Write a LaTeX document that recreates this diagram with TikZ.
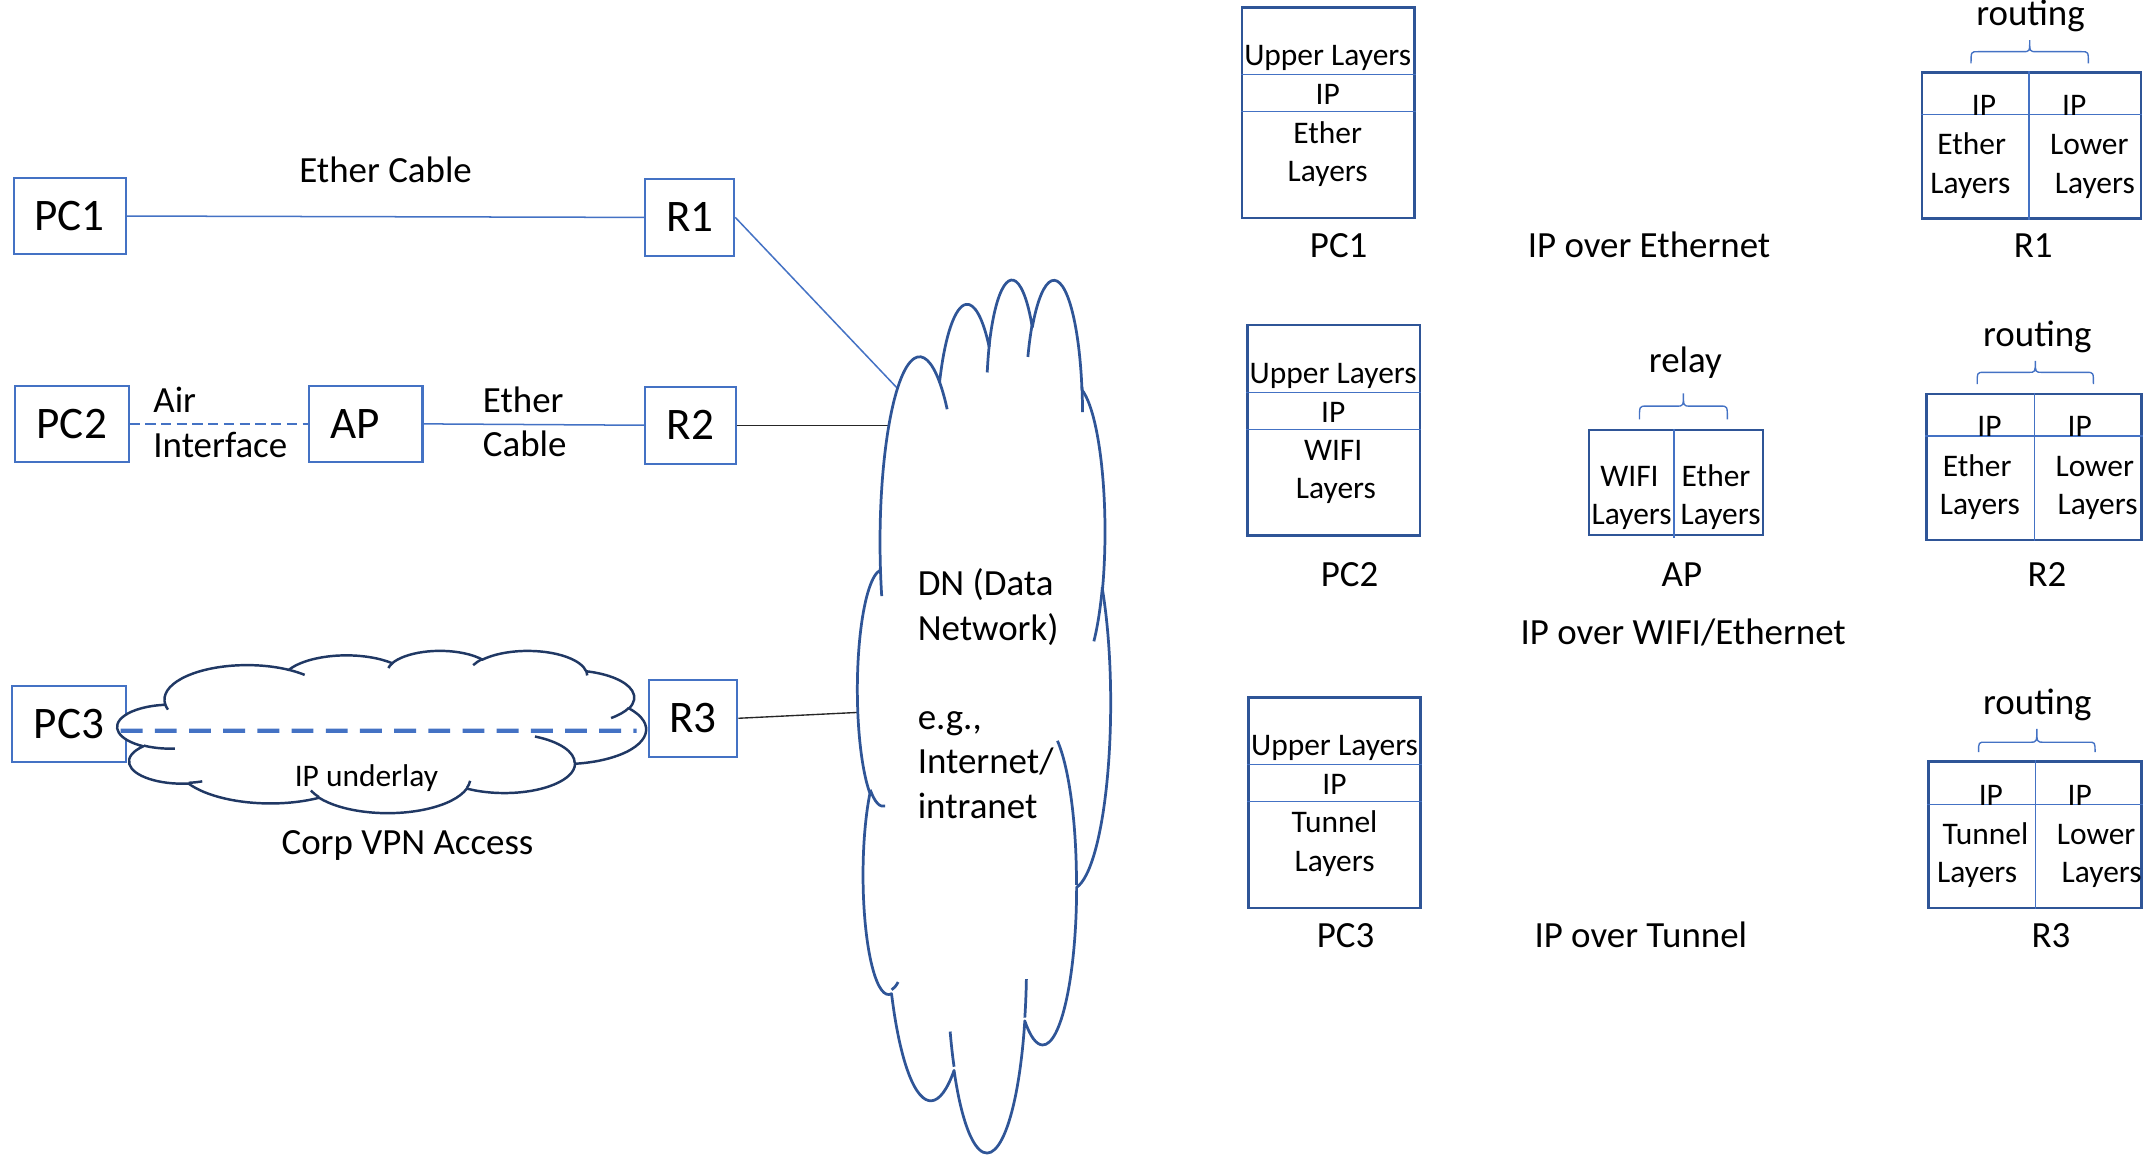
\documentclass[tikz,border=0pt]{standalone}
\usepackage{fontspec}
\setmainfont{Carlito}
\usetikzlibrary{calc}
\definecolor{cB}{HTML}{4472C4}
\definecolor{cD}{HTML}{2F5597}
\definecolor{cN}{HTML}{203864}
\newcommand\fbig{\fontsize{33}{40}\selectfont}
\newcommand\fmed{\fontsize{27}{33}\selectfont}
\newcommand\fsml{\fontsize{23}{28}\selectfont}
\newcommand\cloudpath{(39.00,143.70)
 arc[start angle=172.25, delta angle=128.11, x radius=67.53, y radius=91.90]
 arc[start angle=-152.02, delta angle=106.59, x radius=53.33, y radius=72.67]
 arc[start angle=-153.48, delta angle=116.17, x radius=43.65, y radius=59.45]
 arc[start angle=-139.69, delta angle=129.48, x radius=48.57, y radius=65.95]
 arc[start angle=-74.77, delta angle=97.98, x radius=53.33, y radius=72.73]
 arc[start angle=-37.53, delta angle=119.39, x radius=67.75, y radius=92.20]
 arc[start angle=0.46, delta angle=121.52, x radius=57.85, y radius=78.67]
 arc[start angle=16.85, delta angle=129.38, x radius=67.52, y radius=92.15]
 arc[start angle=58.98, delta angle=91.21, x radius=77.20, y radius=105.43]
 arc[start angle=83.31, delta angle=139.80, x radius=43.60, y radius=59.18]
 arc[start angle=120.36, delta angle=143.75, x radius=43.45, y radius=59.45]
 -- cycle}
\newcommand\cloudinner{
 (46.93,261.77) arc[start angle=85.55, delta angle=34.81, x radius=43.45, y radius=59.45]
 (69.28,348.99) arc[start angle=68.23, delta angle=15.08, x radius=43.60, y radius=59.18]
 (164.78,390.90) arc[start angle=146.23, delta angle=12.25, x radius=67.52, y radius=92.15]
 (288.27,347.51) arc[start angle=4.74, delta angle=12.11, x radius=67.52, y radius=92.15]
 (341.29,229.54) arc[start angle=-64.03, delta angle=64.49, x radius=57.85, y radius=78.67]
 (417.98,153.54) arc[start angle=23.21, delta angle=26.43, x radius=53.33, y radius=72.73]
 (383.24,54.26) arc[start angle=-10.21, delta angle=11.03, x radius=48.57, y radius=65.95]
 (290.78,39.52) arc[start angle=-156.29, delta angle=16.60, x radius=48.57, y radius=65.95]
 (221.41,47.20) arc[start angle=-167.73, delta angle=14.25, x radius=43.65, y radius=59.45]
 (140.00,51.92) arc[start angle=-59.64, delta angle=13.90, x radius=67.53, y radius=91.90]
 (41.27,157.89) arc[start angle=163.20, delta angle=9.05, x radius=67.53, y radius=91.90]}
\newcommand\bracepath[5]{%
 \draw[brc] (#1,#3) .. controls (#1,#4) .. (#1+5,#4) -- (#1/2+#2/2-5,#4)
   .. controls (#1/2+#2/2,#4) .. (#1/2+#2/2,#5)
   .. controls (#1/2+#2/2,#4) .. (#1/2+#2/2+5,#4) -- (#2-5,#4)
   .. controls (#2,#4) .. (#2,#3);}
\begin{document}
\begin{tikzpicture}[x=1pt,y=-1pt,
  lbox/.style={draw=cB, line width=1.5pt, fill=white, inner sep=0pt,
    minimum height=56pt, font=\fbig, text height=21.1pt, text depth=0pt},
  tbig/.style={font=\fbig, inner sep=0pt, text height=21.1pt, text depth=0pt},
  tmed/.style={font=\fmed, inner sep=0pt, text height=17.3pt, text depth=0pt},
  tsml/.style={font=\fsml, inner sep=0pt, text height=14.7pt, text depth=0pt},
  conn/.style={draw=cB, line width=1.1pt},
  blk/.style={draw=black!85, line width=1pt},
  dncloud/.style={draw=cD, line width=2pt, line join=round},
  vpncloud/.style={draw=cN, line width=1.8pt, line join=round},
  vpnline/.style={draw=cB, line width=3pt, dash pattern=on 16pt off 9pt},
  stk/.style={draw=cD, line width=1.8pt, inner sep=0pt},
  sepl/.style={draw=cB, line width=1pt},
  brc/.style={draw=cB, line width=1pt}]
\useasboundingbox (0,0) rectangle (1568,845);

% ---------- left network ----------
\node[lbox, minimum width=82pt] (PC1) at (51,158) {PC1};
\node[lbox, minimum width=65pt] (R1) at (504.5,159) {R1};
\node[lbox, minimum width=83pt] (PC2) at (52.5,310) {PC2};
\node[lbox, minimum width=83pt] (AP) at (267.5,310) {};
\node[tbig] (APt) at (259.5,310) {AP};
\node[lbox, minimum width=66pt] (R2) at (505,311) {R2};
\node[lbox, minimum width=83pt] (PC3) at (50.5,529.4) {PC3};
\node[lbox, minimum width=65pt] (R3) at (506.8,525.3) {R3};

\node[tmed] (lEC) at (282,125) {Ether Cable};
\node[tmed, anchor=west] (lAir) at (112,293) {Air};
\node[tmed, anchor=west] (lIf) at (112,326) {Interface};
\node[tmed, anchor=west] (lEt) at (353,293) {Ether};
\node[tmed, anchor=west] (lCb) at (353,325) {Cable};

\coordinate (dn1) at (662,290);
\coordinate (dn2) at (662,311);
\coordinate (dn3) at (636,520.6);
\draw[conn] (PC1.east) -- (R1.west);
\draw[conn] (R1.east) -- (dn1);
\draw[conn, dash pattern=on 7.5pt off 4pt] (PC2.east) -- (AP.west);
\draw[conn] (AP.east) -- (R2.west);
\draw[blk] (R2.east) -- (dn2);
\draw[blk] (R3.east) -- (dn3);

% big DN cloud
\begin{scope}[shift={(627.16,202.67)}, x=0.42834pt, y=-1.4773pt]
  \draw[dncloud, fill=white] \cloudpath;
  \draw[dncloud] \cloudinner;
\end{scope}
\node[tmed, anchor=west] (dnA) at (671,427) {DN (Data};
\node[tmed, anchor=west] (dnB) at (671,459.6) {Network)};
\node[tmed, anchor=west] (dnC) at (671,524.8) {e.g.,};
\node[tmed, anchor=west] (dnD) at (671,557.4) {Internet/};
\node[tmed, anchor=west] (dnE) at (671,590) {intranet};

% small VPN cloud
\begin{scope}[shift={(85.93,475.6)}, x=0.8946pt, y=-0.27464pt]
  \draw[vpncloud, fill=white] \cloudpath;
  \draw[vpncloud] \cloudinner;
\end{scope}
\draw[vpnline] ([xshift=-4.5pt,yshift=-5pt]PC3.east) -- ([xshift=-8pt,yshift=-9.1pt]R3.west);
\node[tsml] (ipu) at (268,567.5) {IP underlay};
\node[tmed] (corp) at (298,616) {Corp VPN Access};

% ---------- PC stacks ----------
\node[stk, minimum width=126pt, minimum height=154pt] (s1) at (971.5,82.5) {};
\draw[sepl] ($(s1.north west)+(0,50)$) -- ($(s1.north east)+(0,50)$);
\draw[sepl] ($(s1.north west)+(0,77)$) -- ($(s1.north east)+(0,77)$);
\node[tsml] (s1a) at (971,40.5) {Upper Layers};
\node[tsml] (s1b) at (971,69) {IP};
\node[tsml] (s1c) at (971,97.5) {Ether};
\node[tsml] (s1d) at (971,125.5) {Layers};
\node[tmed] (s1l) at (979,180) {PC1};

\node[stk, minimum width=126pt, minimum height=154pt] (s2) at (975.5,314.8) {};
\draw[sepl] ($(s2.north west)+(0,50)$) -- ($(s2.north east)+(0,50)$);
\draw[sepl] ($(s2.north west)+(0,77)$) -- ($(s2.north east)+(0,77)$);
\node[tsml] (s2a) at (975,273) {Upper Layers};
\node[tsml] (s2b) at (975,301.5) {IP};
\node[tsml] (s2c) at (975,329.5) {WIFI};
\node[tsml] (s2d) at (977,357.5) {Layers};
\node[tmed] (s2l) at (987,420) {PC2};

\node[stk, minimum width=126pt, minimum height=154pt] (s3) at (976,587) {};
\draw[sepl] ($(s3.north west)+(0,50)$) -- ($(s3.north east)+(0,50)$);
\draw[sepl] ($(s3.north west)+(0,77)$) -- ($(s3.north east)+(0,77)$);
\node[tsml] (s3a) at (976,545) {Upper Layers};
\node[tsml] (s3b) at (976,573.5) {IP};
\node[tsml] (s3c) at (976,601.5) {Tunnel};
\node[tsml] (s3d) at (976,630) {Layers};
\node[tmed] (s3l) at (984,684) {PC3};

\node[tmed] (ov1) at (1206,180) {IP over Ethernet};
\node[tmed] (ov2) at (1231,463) {IP over WIFI/Ethernet};
\node[tmed] (ov3) at (1200,684) {IP over Tunnel};

% ---------- AP stack ----------
\node[stk, minimum width=127pt, minimum height=76.8pt] (a1) at (1225.7,352.9) {};
\draw[sepl] ($(a1.north west)+(63,0)$) -- ($(a1.south west)+(63,1.5)$);
\node[tsml] (a1a) at (1191.7,348.6) {WIFI};
\node[tsml] (a1b) at (1193.3,376) {Layers};
\node[tsml] (a1c) at (1255,348.6) {Ether};
\node[tsml] (a1d) at (1258.3,376) {Layers};
\bracepath{1199}{1263.3}{306.7}{297}{287.7}
\node[tmed] (relay) at (1232.6,264) {relay};
\node[tmed] (a1l) at (1230,420.5) {AP};

% ---------- router stacks ----------
\node[stk, minimum width=160.3pt, minimum height=107pt] (r1) at (1485.6,106.4) {};
\draw[sepl] ($(r1.north west)+(79.2,0)$) -- ($(r1.south west)+(79.2,0)$);
\draw[sepl] ($(r1.north west)+(0,31.9)$) -- ($(r1.north east)+(0,31.9)$);
\node[tsml] (r1a) at (1451,77) {IP};
\node[tsml] (r1b) at (1517,77) {IP};
\node[tsml] (r1c) at (1442,106) {Ether};
\node[tsml] (r1d) at (1441,134) {Layers};
\node[tsml] (r1e) at (1528,106) {Lower};
\node[tsml] (r1f) at (1532,134) {Layers};
\bracepath{1441.5}{1527.3}{46.3}{37.8}{29.3}
\node[tmed] (rt1) at (1485,9.7) {routing};
\node[tmed] (r1l) at (1487,180) {R1};

\node[stk, minimum width=157pt, minimum height=107pt] (r2) at (1487.5,341.5) {};
\draw[sepl] ($(r2.north west)+(79.6,0)$) -- ($(r2.south west)+(79.6,0)$);
\draw[sepl] ($(r2.north west)+(0,31.7)$) -- ($(r2.north east)+(0,31.7)$);
\node[tsml] (r2a) at (1455,312) {IP};
\node[tsml] (r2b) at (1521,312) {IP};
\node[tsml] (r2c) at (1446,341) {Ether};
\node[tsml] (r2d) at (1448,369) {Layers};
\node[tsml] (r2e) at (1532,341) {Lower};
\node[tsml] (r2f) at (1534,369) {Layers};
\bracepath{1446}{1531}{281}{272.3}{264}
\node[tmed] (rt2) at (1490,245) {routing};
\node[tmed] (r2l) at (1497,420) {R2};

\node[stk, minimum width=155.7pt, minimum height=107.3pt] (r3) at (1488.2,610.4) {};
\draw[sepl] ($(r3.north west)+(79.3,0)$) -- ($(r3.south west)+(79.3,0)$);
\draw[sepl] ($(r3.north west)+(0,32.3)$) -- ($(r3.north east)+(0,32.3)$);
\node[tsml] (r3a) at (1456,581.5) {IP};
\node[tsml] (r3b) at (1521,581.5) {IP};
\node[tsml] (r3c) at (1452,610) {Tunnel};
\node[tsml] (r3d) at (1446,638) {Layers};
\node[tsml] (r3e) at (1533,610) {Lower};
\node[tsml] (r3f) at (1537,638) {Layers};
\bracepath{1447}{1532.2}{550}{542.8}{533}
\node[tmed] (rt3) at (1490,514) {routing};
\node[tmed] (r3l) at (1500,684) {R3};
\end{tikzpicture}
\end{document}
